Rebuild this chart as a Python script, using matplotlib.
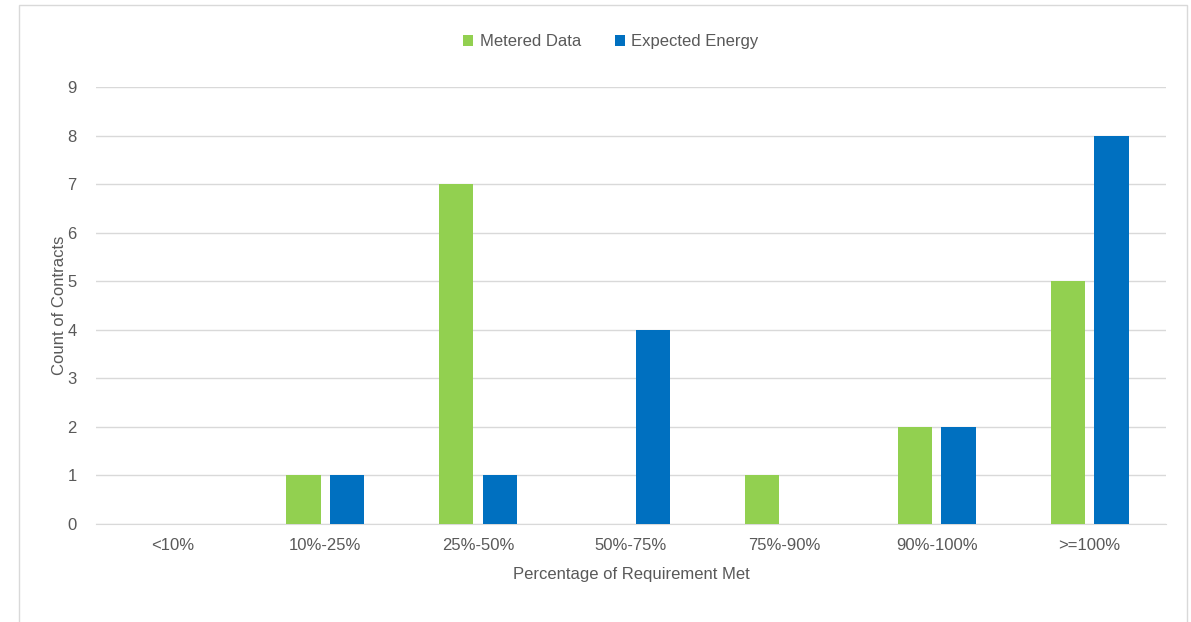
import matplotlib.pyplot as plt
from matplotlib.patches import Rectangle
import numpy as np

plt.rcParams['font.family'] = ['Liberation Sans', 'DejaVu Sans']

categories = ['<10%', '10%-25%', '25%-50%', '50%-75%', '75%-90%', '90%-100%', '>=100%']
metered = [0, 1, 7, 0, 1, 2, 5]
expected = [0, 1, 1, 4, 0, 2, 8]

green = '#92d050'
blue = '#0070c0'
text_col = '#595959'

fig = plt.figure(figsize=(11.91, 6.22), dpi=100)
ax = fig.add_axes([0.0806, 0.1576, 0.8984, 0.7025])

# outer chart border (bottom edge runs off the image)
fig.patches.append(Rectangle((0.016, -0.02), 0.981, 1.012, transform=fig.transFigure,
                             fill=False, edgecolor='#d9d9d9', linewidth=1))

x = np.arange(len(categories))
w = 0.225
ax.bar(x - 0.143, metered, w, color=green, label='Metered Data', zorder=3)
ax.bar(x + 0.143, expected, w, color=blue, label='Expected Energy', zorder=3)

ax.set_xlim(-0.5, len(categories) - 0.5)
ax.set_ylim(0, 9)
ax.set_yticks(range(10))
ax.set_xticks(x)
ax.set_xticklabels(categories)
ax.grid(axis='y', color='#d9d9d9', linewidth=1, zorder=0)
for s in ['top', 'right', 'left']:
    ax.spines[s].set_visible(False)
ax.spines['bottom'].set_color('#d9d9d9')
ax.tick_params(length=0, labelsize=12, colors=text_col, pad=10)
ax.tick_params(axis='y', pad=14)

ax.set_xlabel('Percentage of Requirement Met', fontsize=12, color=text_col, labelpad=10)
ax.set_ylabel('Count of Contracts', fontsize=12, color=text_col, labelpad=0)

fig.legend(loc='center', bbox_to_anchor=(0.513, 0.933), ncol=2, frameon=False,
           fontsize=12, labelcolor=text_col, handlelength=0.6, handleheight=0.6,
           handletextpad=0.4, columnspacing=2.0)

fig.savefig('out.png', dpi=100)
